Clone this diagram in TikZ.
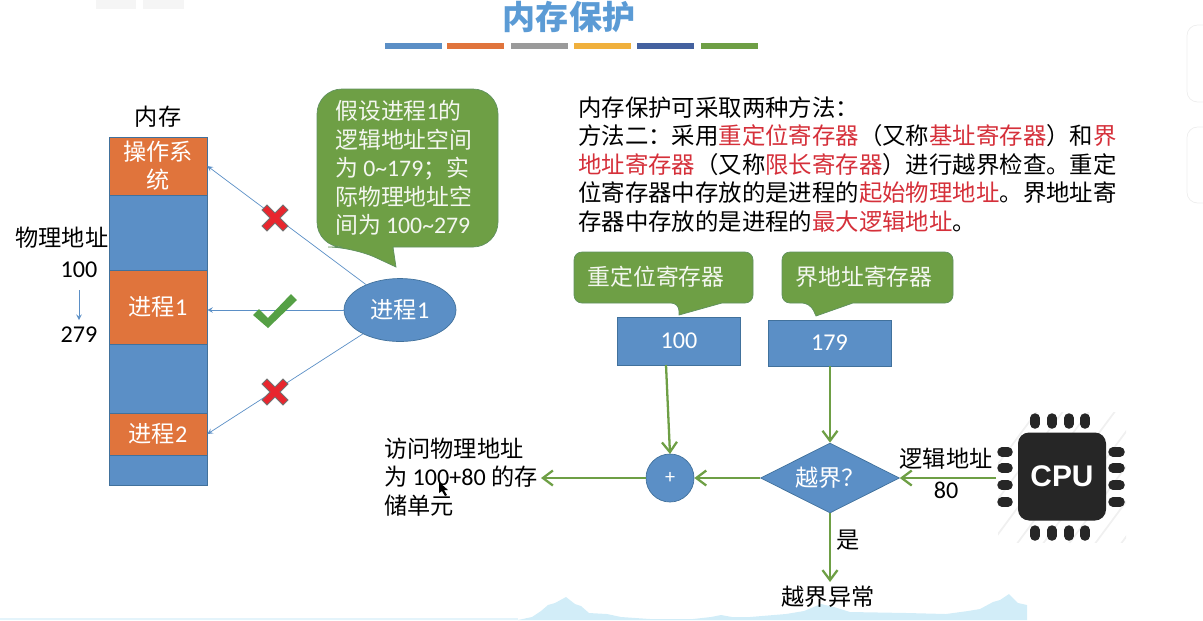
\documentclass[tikz,border=0pt]{standalone}
\usepackage{fontspec,xcolor}
\setmainfont{Noto Sans CJK SC}
\newfontfamily\latf[Scale=1.04]{Carlito}
\newfontfamily\cpuf{Liberation Sans}
\newcommand{\lat}[1]{{\latf #1}}
\definecolor{barblue}{HTML}{5B8FC6}
\definecolor{barorange}{HTML}{E0743C}
\definecolor{bargray}{HTML}{9A9A9A}
\definecolor{bargold}{HTML}{F0B03C}
\definecolor{bardark}{HTML}{44619F}
\definecolor{bargreen}{HTML}{6E9F45}
\definecolor{edgeblue}{HTML}{41719C}
\definecolor{redtxt}{HTML}{D5303A}
\definecolor{skyblue}{HTML}{D2EDF8}
\definecolor{titleblue}{HTML}{5B9BD5}
\definecolor{checkgreen}{HTML}{55A045}
\definecolor{crossred}{HTML}{E8262E}
\usetikzlibrary{shapes.geometric,arrows.meta}
\tikzset{
  body/.style={font=\fontsize{13.2}{16.2}\selectfont,inner sep=0,align=left},
  cell/.style={draw=edgeblue,fill=#1,text=white,font=\fontsize{13.2}{16}\selectfont,minimum width=1.96cm,inner sep=0,align=center},
  valbox/.style={draw=edgeblue,fill=barblue,text=white,font=\fontsize{13.2}{16}\selectfont\latf,minimum width=2.46cm,inner sep=0},
  bubble/.style={draw=bargreen!70!edgeblue,fill=bargreen},
  bubtxt/.style={text=white!92!bargreen,font=\fontsize{13}{16.2}\selectfont,inner sep=0,align=left},
  thin ray/.style={->,>=stealth,draw=barblue,line width=.4pt},
  green ray/.style={-{Straight Barb[length=2mm,width=3mm,line width=1.3pt]},draw=bargreen,line width=1.3pt},
  crossmark/.style={draw=black!55,fill=crossred,line width=.5pt},
}
\begin{document}
\begin{tikzpicture}[x=.02cm,y=-.02cm]
\useasboundingbox (0,0) rectangle (1203,620);
\fill[black!4] (96,0) rectangle (136,9); \fill[black!4] (143,0) rectangle (184,9);
\draw[black!7,rounded corners=6] (1203,25)--(1187,25)--(1187,102)--(1203,102);
\draw[black!7,rounded corners=6] (1203,127)--(1187,127)--(1187,203)--(1203,203);
\fill[skyblue!60] (0,618) rectangle (518,620);
\fill[skyblue] (518,620)--(532,617)--(541,611)--(548,605)--(555,603)--(566,597)--(575,604)--(581,606)--(589,613)--(607,614)--(621,617)--(650,619)--(693,619)--(711,617)--(721,615)--(732,617)--(750,617)--(786,614)--(804,611)--(821,604)--(834,607)--(850,612)--(907,613)--(946,614)--(968,611)--(980,609)--(993,602)--(1000,600)--(1009,594)--(1018,603)--(1027,605)--(1027,620)--cycle;

\node[text=titleblue,font=\fontsize{18.8}{20}\selectfont\bfseries] (title) at (569,17) {内存保护};
\foreach \x/\c in {385/barblue,447/barorange,511/bargray,574/bargold,637/bardark,701/bargreen}{\fill[\c] (\x,43) rectangle (\x+57,49);}

\node[body] (memlab) at (158,117) {内存};
\node[cell=barorange,minimum height=1.16cm] (os) at (158,166) {操作系\\统};
\node[cell=barblue,minimum height=1.5cm] (free1) at (158,232.5) {};
\node[cell=barorange,minimum height=1.48cm] (proc1) at (158,307) {进程\lat{1}};
\node[cell=barblue,minimum height=1.38cm] (free2) at (158,378.5) {};
\node[cell=barorange,minimum height=.84cm] (proc2) at (158,434) {进程\lat{2}};
\node[cell=barblue,minimum height=.6cm] (free3) at (158,470) {};
\node[body] (physlab) at (62,238) {物理地址};
\node[body,font=\fontsize{13.2}{16}\selectfont\latf] (lo) at (79,270) {100};
\node[body,font=\fontsize{13.2}{16}\selectfont\latf] (hi) at (79,335) {279};
\draw[thin ray] (lo) ++(0,20) -- (79,320);

\node[ellipse,draw=edgeblue,fill=barblue,text=white,minimum width=2.24cm,minimum height=1.26cm,inner sep=0,font=\fontsize{13.2}{16}\selectfont] (job) at (400,310) {进程\lat{1}};
\draw[thin ray] (job) -- (os.east);
\draw[thin ray] (job) -- (proc1.east |- job);
\draw[thin ray] (job) -- (proc2.east);
\foreach \p in {218,392}{\filldraw[crossmark,shift={(275,\p)}] (-13,-8)--(-8,-13)--(0,-5)--(8,-13)--(13,-8)--(5,0)--(13,8)--(8,13)--(0,5)--(-8,13)--(-13,8)--(-5,0)--cycle;}
\fill[checkgreen] (253,315)--(259,309)--(268,318)--(291,294)--(297,300)--(268,328)--cycle;

\filldraw[bubble,rounded corners=.5cm] (393,247)--(498,247)--(498,89)--(317,89)--(317,247)--(353,247)[sharp corners]--(396,267)--cycle;
\node[bubtxt,anchor=north west] (hint) at (335,100) {假设进程\lat{1}的\\逻辑地址空间\\为 \lat{0\textasciitilde179}；实\\际物理地址空\\间为 \lat{100\textasciitilde279}};

\node[body,font=\fontsize{13.32}{16.2}\selectfont,anchor=north west] (para) at (578,96) {内存保护可采取两种方法：\\方法二：采用\textcolor{redtxt}{重定位寄存器}（又称\textcolor{redtxt}{基址寄存器}）和\textcolor{redtxt}{界}\\\textcolor{redtxt}{地址寄存器}（又称\textcolor{redtxt}{限长寄存器}）进行越界检查。重定\\位寄存器中存放的是进程的\textcolor{redtxt}{起始物理地址}。界地址寄\\存器中存放的是进程的\textcolor{redtxt}{最大逻辑地址}。};

\filldraw[bubble,rounded corners=.16cm] (722,303)--(753,303)--(753,252)--(574,252)--(574,303)--(679,303)[sharp corners]--(679,315)--cycle;
\filldraw[bubble,rounded corners=.16cm] (853,303)--(953,303)--(953,252)--(782,252)--(782,303)--(810,303)[sharp corners]--(816,316)--cycle;
\node[bubtxt] (baselab) at (656,277) {重定位寄存器};
\node[bubtxt] (limitlab) at (864,277) {界地址寄存器};
\node[valbox,minimum height=.96cm] (base) at (679,341) {100};
\node[valbox,minimum height=.92cm] (limit) at (829.5,343) {179};

\node[circle,draw=edgeblue,fill=barblue,text=white,minimum size=.96cm,inner sep=0,font=\fontsize{11}{12}\selectfont\latf] (add) at (670,478) {+};
\node[diamond,draw=edgeblue,fill=barblue,text=white,minimum width=2.78cm,minimum height=1.4cm,inner sep=0,aspect=2,font=\fontsize{13.2}{16}\selectfont] (check) at (830,478) {越界？};
\node[body,anchor=west] (result) at (384,477) {访问物理地址\\为 \lat{100+80} 的存\\储单元};
\node[body] (fault) at (828,597) {越界异常};
\node[body] (yes) at (848,540) {是};
\node[body] (loglab) at (946,459) {逻辑地址};
\node[body,font=\fontsize{13.2}{16}\selectfont\latf] (off) at (946,490) {80};
\coordinate (resin) at (541,478);
\coordinate (cpuout) at (996,478);
\coordinate (faultin) at (830,582);
\coordinate (addin) at (670,454);
\coordinate (baseout) at (666,365);

\draw[green ray] (baseout) -- (addin);
\draw[green ray] (limit.south -| check) -- (check.north);
\draw[green ray] (check.west) -- (add.east);
\draw[green ray] (add.west) -- (resin);
\draw[green ray] (cpuout) -- (check.east);
\draw[green ray] (check.south) -- (faultin);
\fill[black] (439,482)--(439,493)--(442,491)--(445,496)--(447,495)--(444,490)--(448,490)--cycle;

\begin{scope}
\clip (998,412) rectangle (1126,542);
\foreach \a in {0,...,9}{\draw[black!6,line width=1pt] (938+\a*26,545)--++(100,-135);}
\end{scope}
\node[fill=black!85,rounded corners=.22cm,minimum size=1.76cm,inner sep=0,text=white,font=\fontsize{17}{20}\selectfont\cpuf\bfseries] (cpu) at (1062,476.5) {\raisebox{-.8pt}{CPU}};
\foreach \x in {1035,1052,1069,1085}{\draw[black!85,line width=.19cm,line cap=round] (\x,418)--(\x,424); \draw[black!85,line width=.19cm,line cap=round] (\x,530)--(\x,536);}
\foreach \y in {452,468,485,502}{\draw[black!85,line width=.19cm,line cap=round] (1002,\y)--(1008,\y); \draw[black!85,line width=.19cm,line cap=round] (1113,\y)--(1120,\y);}
\end{tikzpicture}
\end{document}
